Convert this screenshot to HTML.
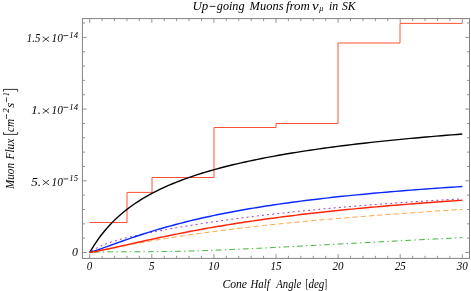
<!DOCTYPE html>
<html><head><meta charset="utf-8"><title>Up-going Muons</title>
<style>
html,body{margin:0;padding:0;background:#fff;}
body{width:471px;height:291px;overflow:hidden;}
svg{display:block;will-change:transform;}
text{font-family:"Liberation Serif",serif;font-style:italic;font-size:11px;fill:#000;}
</style></head><body>
<svg width="471" height="291" viewBox="0 0 471 291">
<rect width="471" height="291" fill="#fff"/>
<path d="M89.40,222.50 L127.00,222.50 L127.00,192.40 L152.00,192.40 L152.00,177.50 L214.00,177.50 L214.00,127.50 L276.00,127.50 L276.00,123.50 L338.00,123.50 L338.00,43.00 L400.00,43.00 L400.00,23.40 L462.40,23.40" fill="none" stroke="#ff5232" stroke-width="1"/>
<path d="M89.70,252.50 L90.30,251.46 L91.28,249.79 L92.49,247.80 L93.87,245.60 L95.40,243.26 L97.06,240.82 L98.83,238.32 L100.71,235.79 L102.68,233.25 L104.74,230.72 L106.89,228.21 L109.12,225.72 L111.42,223.27 L113.80,220.87 L116.24,218.51 L118.75,216.21 L121.32,213.96 L123.96,211.76 L126.65,209.61 L129.40,207.52 L132.21,205.49 L135.07,203.51 L137.98,201.58 L140.94,199.71 L143.96,197.89 L147.02,196.11 L150.13,194.38 L153.29,192.70 L156.49,191.07 L159.74,189.48 L163.03,187.93 L166.36,186.42 L169.73,184.95 L173.15,183.52 L176.61,182.12 L180.10,180.76 L183.64,179.44 L187.21,178.14 L190.82,176.88 L194.47,175.65 L198.16,174.45 L201.88,173.28 L205.63,172.13 L209.43,171.01 L213.25,169.92 L217.11,168.85 L221.01,167.80 L224.94,166.78 L228.90,165.78 L232.89,164.80 L236.91,163.85 L240.97,162.91 L245.06,161.99 L249.18,161.10 L253.33,160.22 L257.51,159.35 L261.72,158.51 L265.96,157.68 L270.23,156.87 L274.53,156.08 L278.85,155.30 L283.21,154.54 L287.59,153.79 L292.00,153.05 L296.44,152.33 L300.91,151.62 L305.40,150.93 L309.92,150.25 L314.47,149.58 L319.05,148.92 L323.65,148.28 L328.27,147.64 L332.92,147.02 L337.60,146.41 L342.30,145.81 L347.03,145.22 L351.78,144.64 L356.56,144.07 L361.36,143.51 L366.19,142.96 L371.04,142.42 L375.92,141.89 L380.81,141.37 L385.74,140.85 L390.68,140.35 L395.65,139.85 L400.64,139.36 L405.66,138.88 L410.70,138.41 L415.76,137.94 L420.84,137.48 L425.95,137.03 L431.07,136.59 L436.22,136.15 L441.40,135.72 L446.59,135.30 L451.80,134.88 L457.04,134.47 L462.30,134.06" fill="none" stroke="#000" stroke-width="1.4" stroke-linejoin="round"/>
<path d="M89.70,252.50 L90.30,252.46 L91.28,252.40 L92.49,252.33 L93.87,252.25 L95.40,252.18 L97.06,252.12 L98.83,252.05 L100.71,252.00 L102.68,251.95 L104.74,251.91 L106.89,251.87 L109.12,251.84 L111.42,251.82 L113.80,251.80 L116.24,251.79 L118.75,251.78 L121.32,251.78 L123.96,251.78 L126.65,251.77 L129.40,251.77 L132.21,251.77 L135.07,251.77 L137.98,251.76 L140.94,251.76 L143.96,251.75 L147.02,251.73 L150.13,251.71 L153.29,251.69 L156.49,251.66 L159.74,251.62 L163.03,251.58 L166.36,251.53 L169.73,251.48 L173.15,251.42 L176.61,251.35 L180.10,251.27 L183.64,251.19 L187.21,251.10 L190.82,251.00 L194.47,250.90 L198.16,250.78 L201.88,250.66 L205.63,250.54 L209.43,250.41 L213.25,250.27 L217.11,250.12 L221.01,249.97 L224.94,249.81 L228.90,249.64 L232.89,249.47 L236.91,249.29 L240.97,249.11 L245.06,248.92 L249.18,248.73 L253.33,248.53 L257.51,248.33 L261.72,248.13 L265.96,247.91 L270.23,247.70 L274.53,247.48 L278.85,247.26 L283.21,247.03 L287.59,246.80 L292.00,246.57 L296.44,246.34 L300.91,246.10 L305.40,245.86 L309.92,245.61 L314.47,245.37 L319.05,245.12 L323.65,244.87 L328.27,244.62 L332.92,244.37 L337.60,244.12 L342.30,243.86 L347.03,243.61 L351.78,243.35 L356.56,243.09 L361.36,242.83 L366.19,242.58 L371.04,242.32 L375.92,242.06 L380.81,241.80 L385.74,241.54 L390.68,241.27 L395.65,241.01 L400.64,240.75 L405.66,240.49 L410.70,240.23 L415.76,239.97 L420.84,239.71 L425.95,239.45 L431.07,239.19 L436.22,238.94 L441.40,238.68 L446.59,238.42 L451.80,238.17 L457.04,237.91 L462.30,237.66" fill="none" stroke="#33b033" stroke-width="0.95" stroke-dasharray="5.7 3.23 1.4 3.23" stroke-dashoffset="9.45"/>
<path d="M89.70,252.50 L90.30,252.37 L91.28,252.17 L92.49,251.91 L93.87,251.62 L95.40,251.31 L97.06,250.96 L98.83,250.60 L100.71,250.22 L102.68,249.82 L104.74,249.40 L106.89,248.98 L109.12,248.54 L111.42,248.08 L113.80,247.62 L116.24,247.15 L118.75,246.67 L121.32,246.19 L123.96,245.69 L126.65,245.20 L129.40,244.69 L132.21,244.18 L135.07,243.67 L137.98,243.15 L140.94,242.63 L143.96,242.11 L147.02,241.58 L150.13,241.05 L153.29,240.52 L156.49,239.99 L159.74,239.46 L163.03,238.93 L166.36,238.40 L169.73,237.87 L173.15,237.34 L176.61,236.81 L180.10,236.28 L183.64,235.75 L187.21,235.22 L190.82,234.70 L194.47,234.18 L198.16,233.66 L201.88,233.14 L205.63,232.62 L209.43,232.11 L213.25,231.60 L217.11,231.09 L221.01,230.59 L224.94,230.09 L228.90,229.59 L232.89,229.10 L236.91,228.61 L240.97,228.13 L245.06,227.65 L249.18,227.17 L253.33,226.69 L257.51,226.22 L261.72,225.76 L265.96,225.30 L270.23,224.84 L274.53,224.39 L278.85,223.94 L283.21,223.49 L287.59,223.05 L292.00,222.62 L296.44,222.18 L300.91,221.75 L305.40,221.33 L309.92,220.91 L314.47,220.49 L319.05,220.08 L323.65,219.67 L328.27,219.27 L332.92,218.87 L337.60,218.47 L342.30,218.08 L347.03,217.69 L351.78,217.30 L356.56,216.92 L361.36,216.54 L366.19,216.16 L371.04,215.79 L375.92,215.41 L380.81,215.04 L385.74,214.68 L390.68,214.31 L395.65,213.95 L400.64,213.59 L405.66,213.23 L410.70,212.87 L415.76,212.51 L420.84,212.16 L425.95,211.80 L431.07,211.45 L436.22,211.09 L441.40,210.74 L446.59,210.38 L451.80,210.03 L457.04,209.67 L462.30,209.32" fill="none" stroke="#ff9a30" stroke-width="0.9" stroke-dasharray="5.15 3.12" stroke-dashoffset="7.65"/>
<path d="M89.70,252.50 L90.30,252.06 L91.28,251.36 L92.49,250.55 L93.87,249.68 L95.40,248.78 L97.06,247.87 L98.83,246.96 L100.71,246.08 L102.68,245.21 L104.74,244.36 L106.89,243.54 L109.12,242.74 L111.42,241.97 L113.80,241.21 L116.24,240.48 L118.75,239.77 L121.32,239.07 L123.96,238.38 L126.65,237.71 L129.40,237.05 L132.21,236.40 L135.07,235.75 L137.98,235.11 L140.94,234.48 L143.96,233.85 L147.02,233.23 L150.13,232.61 L153.29,231.99 L156.49,231.37 L159.74,230.76 L163.03,230.15 L166.36,229.54 L169.73,228.94 L173.15,228.33 L176.61,227.73 L180.10,227.13 L183.64,226.54 L187.21,225.94 L190.82,225.35 L194.47,224.76 L198.16,224.18 L201.88,223.60 L205.63,223.02 L209.43,222.45 L213.25,221.88 L217.11,221.32 L221.01,220.76 L224.94,220.20 L228.90,219.65 L232.89,219.10 L236.91,218.56 L240.97,218.02 L245.06,217.49 L249.18,216.97 L253.33,216.45 L257.51,215.93 L261.72,215.42 L265.96,214.92 L270.23,214.42 L274.53,213.92 L278.85,213.44 L283.21,212.96 L287.59,212.48 L292.00,212.01 L296.44,211.54 L300.91,211.08 L305.40,210.63 L309.92,210.18 L314.47,209.74 L319.05,209.30 L323.65,208.87 L328.27,208.44 L332.92,208.02 L337.60,207.61 L342.30,207.20 L347.03,206.79 L351.78,206.39 L356.56,206.00 L361.36,205.61 L366.19,205.23 L371.04,204.85 L375.92,204.48 L380.81,204.11 L385.74,203.74 L390.68,203.39 L395.65,203.03 L400.64,202.68 L405.66,202.34 L410.70,202.00 L415.76,201.66 L420.84,201.33 L425.95,201.01 L431.07,200.68 L436.22,200.37 L441.40,200.05 L446.59,199.74 L451.80,199.44 L457.04,199.14 L462.30,198.84" fill="none" stroke="#9c38b4" stroke-width="1.0" stroke-dasharray="1.9 3.25" stroke-dashoffset="2.94"/>
<path d="M89.70,252.50 L90.30,252.31 L91.28,252.00 L92.49,251.61 L93.87,251.15 L95.40,250.64 L97.06,250.08 L98.83,249.47 L100.71,248.81 L102.68,248.11 L104.74,247.38 L106.89,246.61 L109.12,245.81 L111.42,244.99 L113.80,244.13 L116.24,243.26 L118.75,242.36 L121.32,241.45 L123.96,240.52 L126.65,239.58 L129.40,238.63 L132.21,237.67 L135.07,236.71 L137.98,235.74 L140.94,234.76 L143.96,233.79 L147.02,232.82 L150.13,231.84 L153.29,230.87 L156.49,229.91 L159.74,228.95 L163.03,228.00 L166.36,227.05 L169.73,226.11 L173.15,225.18 L176.61,224.26 L180.10,223.34 L183.64,222.44 L187.21,221.55 L190.82,220.66 L194.47,219.79 L198.16,218.93 L201.88,218.08 L205.63,217.24 L209.43,216.42 L213.25,215.60 L217.11,214.80 L221.01,214.01 L224.94,213.23 L228.90,212.46 L232.89,211.71 L236.91,210.96 L240.97,210.23 L245.06,209.51 L249.18,208.80 L253.33,208.11 L257.51,207.42 L261.72,206.74 L265.96,206.08 L270.23,205.43 L274.53,204.78 L278.85,204.15 L283.21,203.53 L287.59,202.92 L292.00,202.32 L296.44,201.73 L300.91,201.15 L305.40,200.58 L309.92,200.01 L314.47,199.46 L319.05,198.92 L323.65,198.39 L328.27,197.86 L332.92,197.34 L337.60,196.84 L342.30,196.34 L347.03,195.85 L351.78,195.36 L356.56,194.89 L361.36,194.42 L366.19,193.96 L371.04,193.51 L375.92,193.07 L380.81,192.63 L385.74,192.20 L390.68,191.78 L395.65,191.36 L400.64,190.95 L405.66,190.55 L410.70,190.15 L415.76,189.76 L420.84,189.38 L425.95,189.00 L431.07,188.63 L436.22,188.26 L441.40,187.90 L446.59,187.55 L451.80,187.20 L457.04,186.86 L462.30,186.52" fill="none" stroke="#0c2aff" stroke-width="1.45" stroke-linejoin="round"/>
<path d="M89.70,252.50 L90.30,252.40 L91.28,252.23 L92.49,252.02 L93.87,251.78 L95.40,251.50 L97.06,251.19 L98.83,250.85 L100.71,250.48 L102.68,250.08 L104.74,249.66 L106.89,249.21 L109.12,248.74 L111.42,248.24 L113.80,247.73 L116.24,247.19 L118.75,246.64 L121.32,246.06 L123.96,245.47 L126.65,244.87 L129.40,244.25 L132.21,243.62 L135.07,242.98 L137.98,242.33 L140.94,241.67 L143.96,241.00 L147.02,240.33 L150.13,239.65 L153.29,238.96 L156.49,238.27 L159.74,237.57 L163.03,236.88 L166.36,236.18 L169.73,235.48 L173.15,234.78 L176.61,234.09 L180.10,233.39 L183.64,232.69 L187.21,232.00 L190.82,231.31 L194.47,230.62 L198.16,229.94 L201.88,229.25 L205.63,228.58 L209.43,227.91 L213.25,227.24 L217.11,226.58 L221.01,225.92 L224.94,225.27 L228.90,224.62 L232.89,223.98 L236.91,223.34 L240.97,222.72 L245.06,222.09 L249.18,221.48 L253.33,220.87 L257.51,220.26 L261.72,219.67 L265.96,219.08 L270.23,218.49 L274.53,217.92 L278.85,217.35 L283.21,216.78 L287.59,216.23 L292.00,215.67 L296.44,215.13 L300.91,214.59 L305.40,214.06 L309.92,213.54 L314.47,213.02 L319.05,212.51 L323.65,212.01 L328.27,211.51 L332.92,211.02 L337.60,210.53 L342.30,210.05 L347.03,209.58 L351.78,209.11 L356.56,208.65 L361.36,208.20 L366.19,207.75 L371.04,207.30 L375.92,206.87 L380.81,206.44 L385.74,206.01 L390.68,205.59 L395.65,205.17 L400.64,204.77 L405.66,204.36 L410.70,203.96 L415.76,203.57 L420.84,203.18 L425.95,202.80 L431.07,202.42 L436.22,202.05 L441.40,201.68 L446.59,201.31 L451.80,200.96 L457.04,200.60 L462.30,200.25" fill="none" stroke="#ff2408" stroke-width="1.45" stroke-linejoin="round"/>
<path d="M89.70,258.4 v-4.3 M89.70,18.6 v4.3 M102.12,258.4 v-2.6 M102.12,18.6 v2.6 M114.54,258.4 v-2.6 M114.54,18.6 v2.6 M126.96,258.4 v-2.6 M126.96,18.6 v2.6 M139.38,258.4 v-2.6 M139.38,18.6 v2.6 M151.80,258.4 v-4.3 M151.80,18.6 v4.3 M164.22,258.4 v-2.6 M164.22,18.6 v2.6 M176.64,258.4 v-2.6 M176.64,18.6 v2.6 M189.06,258.4 v-2.6 M189.06,18.6 v2.6 M201.48,258.4 v-2.6 M201.48,18.6 v2.6 M213.90,258.4 v-4.3 M213.90,18.6 v4.3 M226.32,258.4 v-2.6 M226.32,18.6 v2.6 M238.74,258.4 v-2.6 M238.74,18.6 v2.6 M251.16,258.4 v-2.6 M251.16,18.6 v2.6 M263.58,258.4 v-2.6 M263.58,18.6 v2.6 M276.00,258.4 v-4.3 M276.00,18.6 v4.3 M288.42,258.4 v-2.6 M288.42,18.6 v2.6 M300.84,258.4 v-2.6 M300.84,18.6 v2.6 M313.26,258.4 v-2.6 M313.26,18.6 v2.6 M325.68,258.4 v-2.6 M325.68,18.6 v2.6 M338.10,258.4 v-4.3 M338.10,18.6 v4.3 M350.52,258.4 v-2.6 M350.52,18.6 v2.6 M362.94,258.4 v-2.6 M362.94,18.6 v2.6 M375.36,258.4 v-2.6 M375.36,18.6 v2.6 M387.78,258.4 v-2.6 M387.78,18.6 v2.6 M400.20,258.4 v-4.3 M400.20,18.6 v4.3 M412.62,258.4 v-2.6 M412.62,18.6 v2.6 M425.04,258.4 v-2.6 M425.04,18.6 v2.6 M437.46,258.4 v-2.6 M437.46,18.6 v2.6 M449.88,258.4 v-2.6 M449.88,18.6 v2.6 M462.30,258.4 v-4.3 M462.30,18.6 v4.3 M82.4,252.50 h4.3 M469.5,252.50 h-4.3 M82.4,238.16 h2.6 M469.5,238.16 h-2.6 M82.4,223.82 h2.6 M469.5,223.82 h-2.6 M82.4,209.48 h2.6 M469.5,209.48 h-2.6 M82.4,195.14 h2.6 M469.5,195.14 h-2.6 M82.4,180.80 h4.3 M469.5,180.80 h-4.3 M82.4,166.46 h2.6 M469.5,166.46 h-2.6 M82.4,152.12 h2.6 M469.5,152.12 h-2.6 M82.4,137.78 h2.6 M469.5,137.78 h-2.6 M82.4,123.44 h2.6 M469.5,123.44 h-2.6 M82.4,109.10 h4.3 M469.5,109.10 h-4.3 M82.4,94.76 h2.6 M469.5,94.76 h-2.6 M82.4,80.42 h2.6 M469.5,80.42 h-2.6 M82.4,66.08 h2.6 M469.5,66.08 h-2.6 M82.4,51.74 h2.6 M469.5,51.74 h-2.6 M82.4,37.40 h4.3 M469.5,37.40 h-4.3 M82.4,23.06 h2.6 M469.5,23.06 h-2.6" fill="none" stroke="#828282" stroke-width="0.85"/>
<rect x="82.4" y="18.6" width="387.1" height="239.79999999999998" fill="none" stroke="#828282" stroke-width="1"/>
<text transform="translate(192.50,9.50) scale(1.037,1)" style="font-size:12.5px;font-style:italic">Up</text>
<path d="M209.7,6.4 H215.5" stroke="#000" stroke-width="0.8" fill="none"/>
<text transform="translate(216.80,9.50) scale(0.975,1)" style="font-size:12.5px;font-style:italic">going</text>
<text transform="translate(249.60,9.50) scale(0.997,1)" style="font-size:12.5px;font-style:italic">Muons</text>
<text transform="translate(285.94,9.50) scale(1.034,1)" style="font-size:12.5px;font-style:italic">from</text>
<text transform="translate(312.10,9.50) scale(1.200,1)" style="font-size:12.5px;font-style:italic">ν</text>
<text transform="translate(319.20,11.00) scale(0.894,1)" style="font-size:9px;font-style:italic">μ</text>
<text transform="translate(329.09,9.50) scale(0.941,1)" style="font-size:12.5px;font-style:italic">in</text>
<text transform="translate(341.97,9.50) scale(0.936,1)" style="font-size:12.5px;font-style:italic">SK</text>
<text transform="translate(222.40,287.60) scale(0.935,1)" style="font-size:12.5px;font-style:italic">Cone</text>
<text transform="translate(250.50,287.60) scale(0.868,1)" style="font-size:12.5px;font-style:italic">Half</text>
<text transform="translate(276.34,287.60) scale(0.857,1)" style="font-size:12.5px;font-style:italic">Angle</text>
<text transform="translate(305.46,287.60) scale(0.691,1)" style="font-size:12.5px;font-style:normal">[</text>
<text transform="translate(308.46,287.60) scale(0.881,1)" style="font-size:12.5px;font-style:italic">deg</text>
<text transform="translate(324.30,287.60) scale(0.691,1)" style="font-size:12.5px;font-style:normal">]</text>
<text transform="translate(14.20,189.00) rotate(-90) scale(0.890,1)" style="font-size:12.5px;font-style:italic">Muon</text>
<text transform="translate(14.20,159.60) rotate(-90) scale(0.914,1)" style="font-size:12.5px;font-style:italic">Flux</text>
<text transform="translate(14.20,131.95) rotate(-90) scale(0.896,1)" style="font-size:12.5px;font-style:italic">cm</text>
<text transform="translate(8.80,112.85) rotate(-90) scale(1.012,1)" style="font-size:9px;font-style:italic">2</text>
<text transform="translate(14.20,107.71) rotate(-90) scale(1.035,1)" style="font-size:12.5px;font-style:italic">s</text>
<text transform="translate(8.80,95.92) rotate(-90) scale(0.862,1)" style="font-size:9px;font-style:italic">1</text>
<path d="M6.5,119.0 V114.1 M6.5,102.2 V97.4" stroke="#000" stroke-width="0.7" fill="none"/>
<path d="M3.5,132.2 V134.4 H17.6 V132.2 M3.5,91.6 V89.4 H17.6 V91.6" stroke="#000" stroke-width="0.8" fill="none"/>
<text transform="translate(86.72,270.00) scale(0.920,1)" style="font-size:12px;font-style:italic">0</text>
<text transform="translate(149.06,270.00) scale(0.920,1)" style="font-size:12px;font-style:italic">5</text>
<text transform="translate(208.16,270.00) scale(0.920,1)" style="font-size:12px;font-style:italic">10</text>
<text transform="translate(270.38,270.00) scale(0.920,1)" style="font-size:12px;font-style:italic">15</text>
<text transform="translate(332.60,270.00) scale(0.920,1)" style="font-size:12px;font-style:italic">20</text>
<text transform="translate(394.81,270.00) scale(0.920,1)" style="font-size:12px;font-style:italic">25</text>
<text transform="translate(456.80,270.00) scale(0.920,1)" style="font-size:12px;font-style:italic">30</text>
<text transform="translate(26.85,42.20) scale(0.893,1)" style="font-size:12px;font-style:italic">1.5</text><path d="M42.7,36.70 L49.1,41.70 M49.1,36.70 L42.7,41.70" stroke="#000" stroke-width="0.75" fill="none"/><text transform="translate(51.52,42.20) scale(0.951,1)" style="font-size:12px;font-style:italic">10</text><path d="M63.5,35.60 H68.2" stroke="#000" stroke-width="0.75" fill="none"/><text transform="translate(69.36,38.10) scale(0.965,1)" style="font-size:9px;font-style:italic">14</text>
<text transform="translate(31.37,113.90) scale(1.053,1)" style="font-size:12px;font-style:italic">1.</text><path d="M42.7,108.40 L49.1,113.40 M49.1,108.40 L42.7,113.40" stroke="#000" stroke-width="0.75" fill="none"/><text transform="translate(51.52,113.90) scale(0.951,1)" style="font-size:12px;font-style:italic">10</text><path d="M63.5,107.30 H68.2" stroke="#000" stroke-width="0.75" fill="none"/><text transform="translate(69.36,109.80) scale(0.965,1)" style="font-size:9px;font-style:italic">14</text>
<text transform="translate(31.13,185.50) scale(1.084,1)" style="font-size:12px;font-style:italic">5.</text><path d="M42.7,180.00 L49.1,185.00 M49.1,180.00 L42.7,185.00" stroke="#000" stroke-width="0.75" fill="none"/><text transform="translate(51.52,185.50) scale(0.951,1)" style="font-size:12px;font-style:italic">10</text><path d="M63.5,178.90 H68.2" stroke="#000" stroke-width="0.75" fill="none"/><text transform="translate(69.36,181.40) scale(0.965,1)" style="font-size:9px;font-style:italic">15</text>
<text transform="translate(72.10,255.50) scale(0.990,1)" style="font-size:12px;font-style:italic">0</text>
</svg>
</body></html>
